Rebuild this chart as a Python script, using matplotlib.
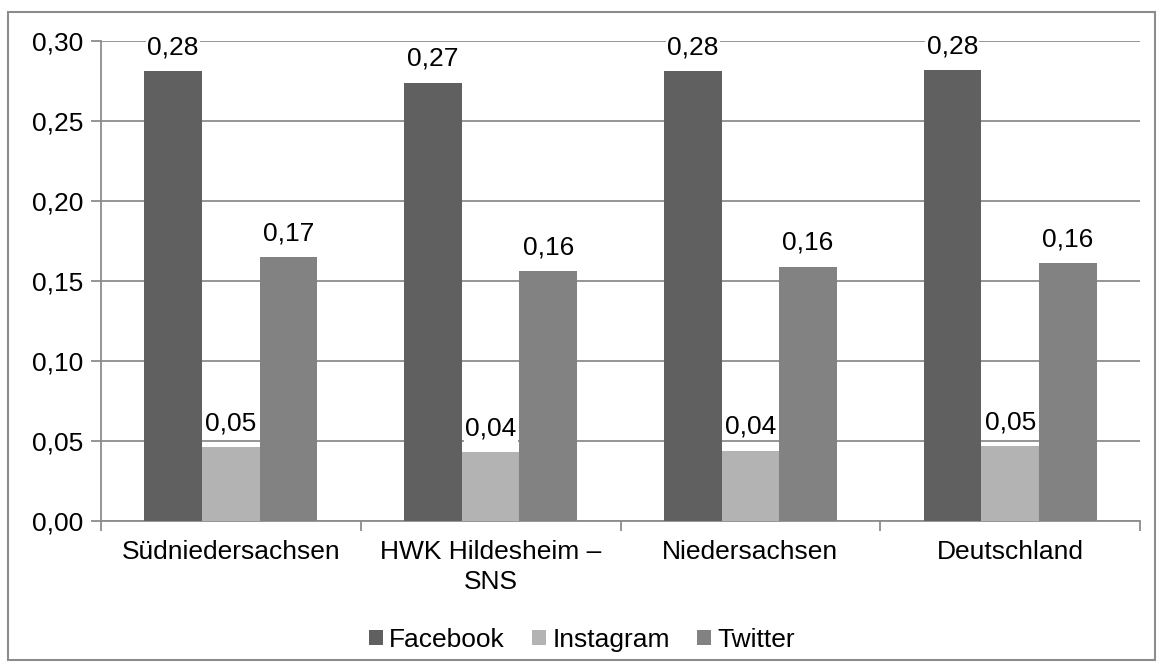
import matplotlib
matplotlib.use("Agg")
import matplotlib.pyplot as plt
import numpy as np
from matplotlib.patches import Rectangle

plt.rcParams['font.family'] = ['Liberation Sans', 'DejaVu Sans']

categories = ["Südniedersachsen", "HWK Hildesheim –\nSNS", "Niedersachsen", "Deutschland"]
series = ["Facebook", "Instagram", "Twitter"]
facebook = [0.281, 0.274, 0.281, 0.282]
instagram = [0.046, 0.043, 0.044, 0.047]
twitter = [0.165, 0.156, 0.159, 0.161]
values = [facebook, instagram, twitter]
colors = ["#606060", "#b3b3b3", "#828282"]
yticks = [0.00, 0.05, 0.10, 0.15, 0.20, 0.25, 0.30]

FS = 19
W, H = 1164, 672
fig = plt.figure(figsize=(W/100, H/100), dpi=100)
fig.patches.append(Rectangle((8/W, 12/H), (1155-8)/W, (660-12)/H, transform=fig.transFigure,
                             fill=False, edgecolor="#8c8c8c", linewidth=1.5))
ax = fig.add_axes([101/W, 1-521/H, (1140-101)/W, (521-41)/H])

n = len(categories)
bw = 1/4.5
x = np.arange(n)
for i, (s, v, c) in enumerate(zip(series, values, colors)):
    pos = x + (i-1)*bw
    ax.bar(pos, v, width=bw, color=c, label=s, zorder=3)
    for p, val in zip(pos, v):
        ax.annotate(f"{val:.2f}".replace(".", ","), (p, val), xytext=(0, 12), textcoords="offset points",
                    ha="center", va="baseline", fontsize=FS, color="black", zorder=4,
                    bbox=dict(facecolor="white", edgecolor="none", pad=1.0))

ax.set_xlim(-0.5, n-0.5)
ax.set_ylim(0, 0.30)
ax.set_yticks(yticks)
ax.set_yticklabels([f"{t:.2f}".replace(".", ",") for t in yticks], fontsize=FS)
ax.yaxis.grid(True, color="#8c8c8c", linewidth=1.3, zorder=0)
ax.set_xticks(np.arange(-0.5, n, 1.0), minor=False)
ax.set_xticklabels([])
ax.set_xticks(x, minor=True)
ax.set_xticklabels(categories, minor=True, fontsize=FS, linespacing=1.3)
ax.tick_params(axis="x", which="minor", length=0, pad=14)
ax.tick_params(axis="x", which="major", length=7, color="#8c8c8c", width=1.3, direction="out")
ax.tick_params(axis="y", length=7, color="#8c8c8c", width=1.3, pad=6)
for side in ["top", "right"]:
    ax.spines[side].set_visible(False)
for side in ["left", "bottom"]:
    ax.spines[side].set_color("#8c8c8c")
    ax.spines[side].set_linewidth(1.3)

fig.legend(loc="center", bbox_to_anchor=(0.5, 1-640/H), ncol=3, frameon=False,
           fontsize=FS, handlelength=0.53, handleheight=0.53, handletextpad=0.22,
           columnspacing=1.05)

fig.savefig("out.png", dpi=100)
